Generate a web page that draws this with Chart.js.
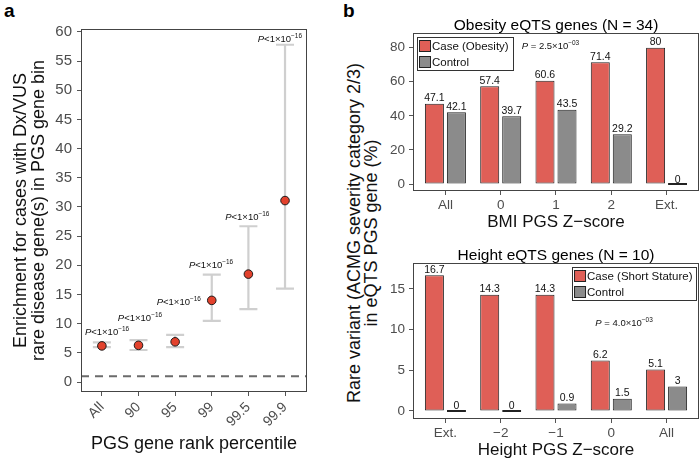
<!DOCTYPE html>
<html>
<head>
<meta charset="utf-8">
<script src="https://cdn.jsdelivr.net/npm/chart.js@4.4.1/dist/chart.umd.min.js"></script>
<style>
  body { margin: 0; background: #fff; width: 700px; height: 462px; position: relative; overflow: hidden;
         font-family: 'Liberation Sans', Arial, Helvetica, sans-serif; }
  canvas { position: absolute; }
  .panel { position: absolute; font-weight: bold; font-size: 19px; line-height: 19px; color: #000; }
  .ytitle { position: absolute; width: 400px; height: 18px; text-align: center; white-space: nowrap;
            font-size: 18px; line-height: 18px; color: #111; transform: rotate(-90deg); }
</style>
</head>
<body>
<div class="panel" style="left:4px;top:1px">a</div>
<div class="panel" style="left:343px;top:1px">b</div>
<div class="ytitle" style="left:154px;top:224px">Rare variant (ACMG severity category 2/3)</div>
<div class="ytitle" style="left:171px;top:224px">in eQTS PGS gene (%)</div>
<canvas id="chartA" width="345" height="462" style="left:0;top:0"></canvas>
<canvas id="chartB1" width="355" height="240" style="left:345px;top:0"></canvas>
<canvas id="chartB2" width="355" height="234" style="left:345px;top:228px"></canvas>
<script>
// panel a: enrichment per PGS gene rank bin
const rankCats = ['All', '90', '95', '99', '99.5', '99.9'];
const enrichment = [6.2, 6.3, 6.9, 14.0, 18.5, 31.1];
const enrichLow = [6.0, 5.5, 6.0, 10.5, 12.5, 16.0];
const enrichHigh = [6.8, 7.2, 8.1, 18.4, 26.7, 57.8];
const enrichTicks = [0, 5, 10, 15, 20, 25, 30, 35, 40, 45, 50, 55, 60];
const refLine = 1;
const rankPText = ['1', '1', '1', '1', '1', '1'];
const rankPExp = ['\u221216', '\u221216', '\u221216', '\u221216', '\u221216', '\u221216'];
const rankPX = [0.14, 1.04, 2.1, 2.98, 3.97, 4.86];
const rankPY = [8.6, 11.0, 13.7, 20.2, 28.3, 58.8];

// panel b top: obesity
const bmiCats = ['All', '0', '1', '2', 'Ext.'];
const bmiCase = [47.1, 57.4, 60.6, 71.4, 80];
const bmiControl = [42.1, 39.7, 43.5, 29.2, 0];
const bmiTicks = [0, 20, 40, 60, 80];

// panel b bottom: height
const heightCats = ['Ext.', '\u22122', '\u22121', '0', 'All'];
const heightCase = [16.7, 14.3, 14.3, 6.2, 5.1];
const heightControl = [0, 0, 0.9, 1.5, 3];
const heightTicks = [0, 5, 10, 15];

const FONT = "'Liberation Sans', Arial, Helvetica, sans-serif";
const CASE = '#df5f57';
const CTRL = '#8b8b8b';
const TICK = '#4d4d4d';

Chart.defaults.font.family = FONT;
Chart.defaults.color = TICK;

const framePlugin = {
  id: 'frame',
  afterDraw(chart) {
    const { ctx, chartArea: a } = chart;
    ctx.save();
    ctx.strokeStyle = '#444';
    ctx.lineWidth = 1;
    ctx.strokeRect(Math.round(a.left) + 0.5, Math.round(a.top) + 0.5,
      Math.round(a.right - a.left) - 1, Math.round(a.bottom - a.top) - 1);
    ctx.restore();
  }
};

// text like "P<1×10^-16" with italic P and a superscript exponent
function drawP(ctx, cx, cy, mid, exp, size) {
  const sup = size * 0.68;
  ctx.save();
  ctx.textBaseline = 'alphabetic';
  ctx.font = 'italic ' + size + 'px ' + FONT;
  const w1 = ctx.measureText('P').width;
  ctx.font = size + 'px ' + FONT;
  const w2 = ctx.measureText(mid).width;
  ctx.font = sup + 'px ' + FONT;
  const w3 = ctx.measureText(exp).width;
  let x = cx - (w1 + w2 + w3) / 2;
  const base = cy + size * 0.35;
  ctx.fillStyle = '#111';
  ctx.font = 'italic ' + size + 'px ' + FONT;
  ctx.fillText('P', x, base);
  x += w1;
  ctx.font = size + 'px ' + FONT;
  ctx.fillText(mid, x, base);
  x += w2;
  ctx.font = sup + 'px ' + FONT;
  ctx.fillText(exp, x, base - size * 0.42);
  ctx.restore();
}

const errorBarPlugin = {
  id: 'errorBars',
  beforeDatasetsDraw(chart) {
    const { ctx, chartArea: a, scales: { x, y } } = chart;
    ctx.save();
    ctx.strokeStyle = '#cfcfcf';
    ctx.lineWidth = 2.2;
    rankCats.forEach((c, i) => {
      const px = x.getPixelForValue(i);
      const lo = y.getPixelForValue(enrichLow[i]);
      const hi = y.getPixelForValue(enrichHigh[i]);
      ctx.beginPath();
      ctx.moveTo(px, lo); ctx.lineTo(px, hi);
      ctx.moveTo(px - 9, lo); ctx.lineTo(px + 9, lo);
      ctx.moveTo(px - 9, hi); ctx.lineTo(px + 9, hi);
      ctx.stroke();
    });
    const ry = y.getPixelForValue(refLine);
    ctx.strokeStyle = '#6b6b6b';
    ctx.lineWidth = 1.8;
    ctx.setLineDash([8, 6]);
    ctx.beginPath();
    ctx.moveTo(a.left, ry); ctx.lineTo(a.right, ry);
    ctx.stroke();
    ctx.restore();
  },
  afterDatasetsDraw(chart) {
    const { ctx, scales: { x, y } } = chart;
    rankPX.forEach((v, i) => {
      drawP(ctx, x.getPixelForValue(v), y.getPixelForValue(rankPY[i]),
        '<' + rankPText[i] + '\u00d710', rankPExp[i], 9.5);
    });
  }
};

const barPanelPlugin = {
  id: 'barPanel',
  afterDatasetsDraw(chart, args, opts) {
    const { ctx, chartArea: a, scales: { x, y } } = chart;
    ctx.save();
    // value labels
    ctx.font = '10.5px ' + FONT;
    ctx.fillStyle = '#111';
    ctx.textAlign = 'center';
    ctx.textBaseline = 'alphabetic';
    chart.data.datasets.forEach((ds, di) => {
      chart.getDatasetMeta(di).data.forEach((bar, i) => {
        ctx.fillText(String(ds.data[i].y), bar.x, bar.y - 2.5);
      });
    });
    // title
    ctx.font = '15.5px ' + FONT;
    ctx.fillStyle = '#000';
    ctx.fillText(opts.title, (a.left + a.right) / 2, a.top - 3);
    // legend
    ctx.font = '11.5px ' + FONT;
    const tw = Math.max(...chart.data.datasets.map(d => ctx.measureText(d.label).width));
    const bw = 15 + tw + 4, bh = 33;
    const bx = opts.legendRight ? a.right - 3 - bw : a.left + 3.5;
    const by = a.top + 3.5;
    ctx.strokeStyle = '#333';
    ctx.lineWidth = 1;
    ctx.strokeRect(Math.round(bx) + 0.5, Math.round(by) + 0.5, Math.round(bw), bh);
    ctx.textAlign = 'left';
    ctx.textBaseline = 'middle';
    chart.data.datasets.forEach((d, di) => {
      const cy = by + 9.5 + di * 16;
      ctx.fillStyle = d.backgroundColor;
      ctx.fillRect(bx + 3, cy - 5.5, 11, 11);
      ctx.strokeStyle = '#222';
      ctx.strokeRect(bx + 3, cy - 5.5, 11, 11);
      ctx.fillStyle = '#111';
      ctx.fillText(d.label, bx + 15.5, cy + 0.5);
    });
    ctx.restore();
    drawP(ctx, x.getPixelForValue(opts.pX), y.getPixelForValue(opts.pY), opts.pMid, opts.pExp, 9.5);
  }
};

function axisTicks(values) {
  return s => { s.ticks = values.map(v => ({ value: v })); };
}

new Chart(document.getElementById('chartA'), {
  type: 'scatter',
  data: {
    datasets: [{
      data: enrichment.map((v, i) => ({ x: i, y: v })),
      backgroundColor: '#e2412c',
      borderColor: '#1a1a1a',
      borderWidth: 1,
      pointRadius: 4.3,
      pointHoverRadius: 4.3
    }]
  },
  options: {
    responsive: false,
    animation: false,
    events: [],
    layout: { padding: { left: 0, top: 29, right: 38, bottom: 0 } },
    plugins: { legend: { display: false }, tooltip: { enabled: false } },
    scales: {
      x: {
        type: 'linear', min: -0.57, max: 5.6,
        afterBuildTicks: axisTicks(rankCats.map((c, i) => i)),
        afterFit: s => { s.height = 70; },
        ticks: { callback: v => rankCats[v], minRotation: 45, maxRotation: 45, autoSkip: false,
                 color: TICK, font: { size: 14 }, padding: 3 },
        grid: { drawOnChartArea: false, drawTicks: true, tickLength: 4, color: '#555' },
        border: { display: false },
        title: { display: true, text: 'PGS gene rank percentile', color: '#111',
                 font: { size: 18, lineHeight: 1.15 }, padding: { top: 0, bottom: 7.6 } }
      },
      y: {
        min: -1.7, max: 60.5,
        afterBuildTicks: axisTicks(enrichTicks),
        afterFit: s => { s.width = 81; },
        ticks: { color: TICK, font: { size: 15 }, padding: 5 },
        grid: { drawOnChartArea: false, drawTicks: true, tickLength: 4, color: '#555' },
        border: { display: false },
        title: { display: true, color: '#111',
                 text: ['Enrichment for cases with Dx/VUS', 'rare disease gene(s) in PGS gene bin'],
                 font: { size: 18, lineHeight: 1 }, padding: { top: 12, bottom: 0 } }
      }
    }
  },
  plugins: [framePlugin, errorBarPlugin]
});

function barChart(id, cats, caseVals, ctrlVals, caseLabel, ticks, yMin, yMax, xPadBottom, panelOpts, xTitle, xHeight, padTop) {
  const series = (vals) => vals.map((v, i) => ({ x: i, y: v }));
  return new Chart(document.getElementById(id), {
    type: 'bar',
    data: {
      datasets: [
        { label: caseLabel, data: series(caseVals), backgroundColor: CASE, borderColor: '#222',
          borderWidth: 1, borderSkipped: false, minBarLength: 2 },
        { label: 'Control', data: series(ctrlVals), backgroundColor: CTRL, borderColor: '#222',
          borderWidth: 1, borderSkipped: false, minBarLength: 2 }
      ]
    },
    options: {
      responsive: false,
      animation: false,
      events: [],
      datasets: { bar: { categoryPercentage: 0.796, barPercentage: 0.864 } },
      layout: { padding: { left: 0, top: padTop, right: 1, bottom: 0 } },
      plugins: { legend: { display: false }, tooltip: { enabled: false }, barPanel: panelOpts },
      scales: {
        x: {
          type: 'linear', offset: false, min: -0.586, max: 4.586,
          afterBuildTicks: axisTicks(cats.map((c, i) => i)),
          afterFit: s => { s.height = xHeight; },
          ticks: { callback: v => cats[v], autoSkip: false, maxRotation: 0, color: TICK,
                   font: { size: 13.5 }, padding: 2 },
          grid: { offset: false, drawOnChartArea: false, drawTicks: true, tickLength: 4, color: '#555' },
          border: { display: false },
          title: { display: true, text: xTitle, color: '#111', font: { size: 17, lineHeight: 1.15 },
                   padding: { top: 0, bottom: xPadBottom } }
        },
        y: {
          min: yMin, max: yMax,
          afterBuildTicks: axisTicks(ticks),
          afterFit: s => { s.width = 68; },
          ticks: { color: TICK, font: { size: 13.5 }, padding: 4 },
          grid: { drawOnChartArea: false, drawTicks: true, tickLength: 4, color: '#555' },
          border: { display: false }
        }
      }
    },
    plugins: [framePlugin, barPanelPlugin]
  });
}

barChart('chartB1', bmiCats, bmiCase, bmiControl, 'Case (Obesity)', bmiTicks, -4.1, 88.6, 8.2,
  { title: 'Obesity eQTS genes (N = 34)', legendRight: false, pX: 1.9, pY: 81,
    pMid: ' = 2.5\u00d710', pExp: '\u221203' },
  'BMI PGS Z\u2212score', 49, 33);

barChart('chartB2', heightCats, heightCase, heightControl, 'Case (Short Stature)', heightTicks, -1.0, 18.2, 2.2,
  { title: 'Height eQTS genes (N = 10)', legendRight: true, pX: 3.23, pY: 10.8,
    pMid: ' = 4.0\u00d710', pExp: '\u221203' },
  'Height PGS Z\u2212score', 43, 35);
</script>
</body>
</html>
